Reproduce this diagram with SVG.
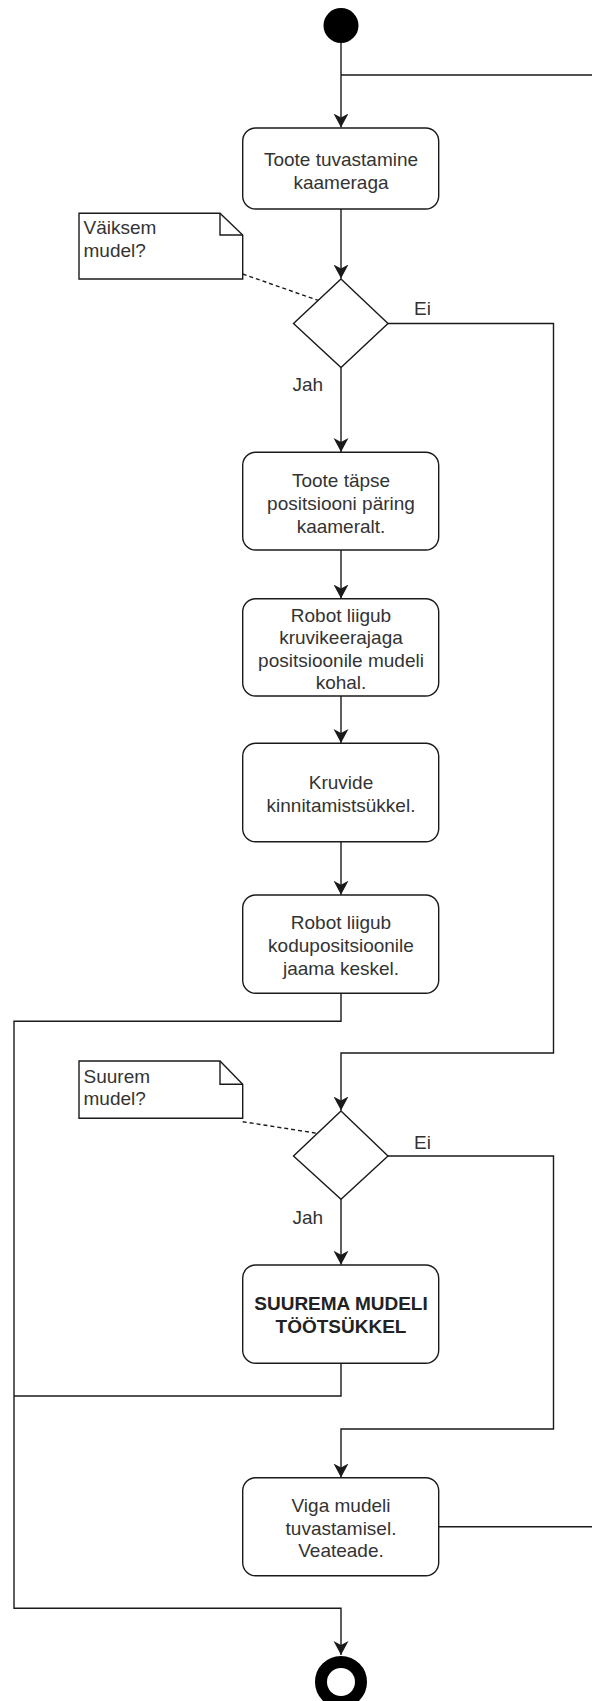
<svg xmlns="http://www.w3.org/2000/svg" width="592" height="1701" viewBox="0 0 592 1701">
<defs>
<style>
.box{fill:#fff;stroke:#1a1a1a;stroke-width:1.4}
.dec{fill:#fff;stroke:#1a1a1a;stroke-width:1.4}
.note{fill:#fff;stroke:#1a1a1a;stroke-width:1.4}
.edge{fill:none;stroke:#1a1a1a;stroke-width:1.4}
.dash{fill:none;stroke:#1a1a1a;stroke-width:1.4;stroke-dasharray:4 3}
.t{font-family:"Liberation Sans",Arial,sans-serif;font-size:19px;fill:#333;text-anchor:middle}
.tb{font-family:"Liberation Sans",Arial,sans-serif;font-size:19px;fill:#222;text-anchor:middle;font-weight:bold}
.tl{font-family:"Liberation Sans",Arial,sans-serif;font-size:19px;fill:#333}
</style>
<marker id="arr" markerUnits="userSpaceOnUse" viewBox="0 0 16 16" markerWidth="16" markerHeight="16" refX="14" refY="8" orient="auto">
<path d="M14,8 L0,0.5 L4,8 L0,15.5 Z" fill="#1a1a1a"/>
</marker>
</defs>
<rect width="592" height="1701" fill="#fff"/>
<g id="connectors">
<path class="edge" d="M341,43 V127.5" marker-end="url(#arr)"/>
<path class="edge" d="M438.7,1526.7 H596 V75 H341"/>
<path class="edge" d="M341,209 V278.5" marker-end="url(#arr)"/>
<path class="edge" d="M388,323.5 H553.5 V1053 H341 V1110.5" marker-end="url(#arr)"/>
<path class="edge" d="M341,367.5 V452" marker-end="url(#arr)"/>
<path class="edge" d="M341,550 V598.5" marker-end="url(#arr)"/>
<path class="edge" d="M341,696 V743" marker-end="url(#arr)"/>
<path class="edge" d="M341,841.7 V894.7" marker-end="url(#arr)"/>
<path class="edge" d="M341,993.3 V1021.3 H14 V1608.3 H341 V1655" marker-end="url(#arr)"/>
<path class="edge" d="M388,1156 H553.5 V1429 H341 V1477.5" marker-end="url(#arr)"/>
<path class="edge" d="M341,1199.3 V1264.7" marker-end="url(#arr)"/>
<path class="edge" d="M341,1363.3 V1396 H14"/>
<path class="dash" d="M242.7,274 L319,300.7"/>
<path class="dash" d="M242.7,1121.7 L317,1133.3"/>
<text class="tl" x="414" y="315">Ei</text>
<text class="tl" x="292.5" y="391">Jah</text>
<text class="tl" x="414" y="1148.5">Ei</text>
<text class="tl" x="292.5" y="1224">Jah</text>
</g>
<g id="start">
<circle cx="341" cy="25.5" r="17.5" fill="#000"/>
</g>
<g id="box1">
<rect class="box" x="242.7" y="128" width="196" height="81" rx="13"/>
<text class="t" x="341" y="166">Toote tuvastamine</text>
<text class="t" x="341" y="188.5">kaameraga</text>
</g>
<g id="note1">
<path class="note" d="M79,213.3 H220 L242.7,235 V279 H79 Z"/>
<path class="edge" d="M220,213.3 V235 H242.7"/>
<text class="tl" x="83.5" y="234">Väiksem</text>
<text class="tl" x="83.5" y="257">mudel?</text>
</g>
<g id="decision1">
<path class="dec" d="M341,279 L388,323.5 L341,367.5 L293.5,323.5 Z"/>
</g>
<g id="box2">
<rect class="box" x="242.7" y="452.3" width="196" height="97.7" rx="13"/>
<text class="t" x="341" y="486.5">Toote täpse</text>
<text class="t" x="341" y="509.5">positsiooni päring</text>
<text class="t" x="341" y="532.5">kaameralt.</text>
</g>
<g id="box3">
<rect class="box" x="242.7" y="598.7" width="196" height="97.3" rx="13"/>
<text class="t" x="341" y="621.5">Robot liigub</text>
<text class="t" x="341" y="644">kruvikeerajaga</text>
<text class="t" x="341" y="666.5">positsioonile mudeli</text>
<text class="t" x="341" y="689">kohal.</text>
</g>
<g id="box4">
<rect class="box" x="242.7" y="743.3" width="196" height="98.4" rx="13"/>
<text class="t" x="341" y="788.5">Kruvide</text>
<text class="t" x="341" y="812">kinnitamistsükkel.</text>
</g>
<g id="box5">
<rect class="box" x="242.7" y="895" width="196" height="98.3" rx="13"/>
<text class="t" x="341" y="929">Robot liigub</text>
<text class="t" x="341" y="951.5">kodupositsioonile</text>
<text class="t" x="341" y="975">jaama keskel.</text>
</g>
<g id="note2">
<path class="note" d="M79,1061 H220 L242.7,1084.3 V1118.3 H79 Z"/>
<path class="edge" d="M220,1061 V1084.3 H242.7"/>
<text class="tl" x="83.5" y="1082.5">Suurem</text>
<text class="tl" x="83.5" y="1105">mudel?</text>
</g>
<g id="decision2">
<path class="dec" d="M341,1111 L388,1156 L341,1199.3 L293.5,1156 Z"/>
</g>
<g id="box6">
<rect class="box" x="242.7" y="1265" width="196" height="98.3" rx="13"/>
<text class="tb" x="341" y="1310">SUUREMA MUDELI</text>
<text class="tb" x="341" y="1332.5">TÖÖTSÜKKEL</text>
</g>
<g id="box7">
<rect class="box" x="242.7" y="1477.7" width="196" height="98" rx="13"/>
<text class="t" x="341" y="1511.5">Viga mudeli</text>
<text class="t" x="341" y="1535">tuvastamisel.</text>
<text class="t" x="341" y="1557">Veateade.</text>
</g>
<g id="end">
<circle cx="341" cy="1682" r="20" fill="#fff" stroke="#000" stroke-width="12"/>
</g>
</svg>
